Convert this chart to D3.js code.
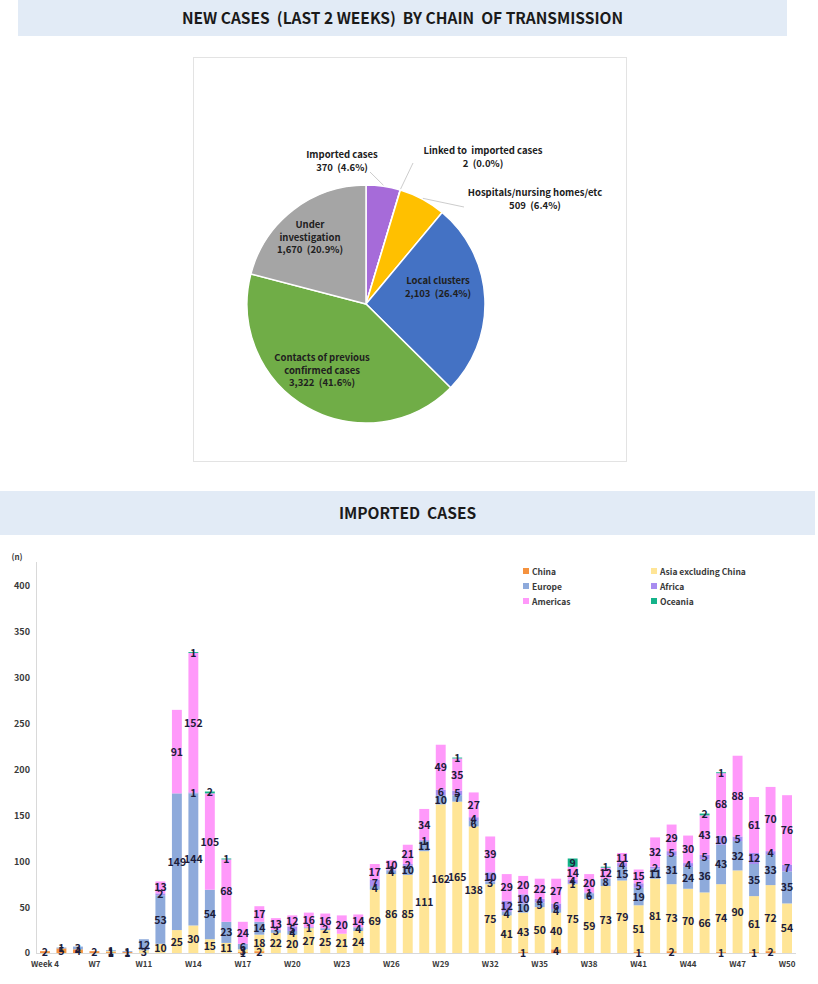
<!DOCTYPE html>
<html>
<head>
<meta charset="utf-8">
<script src="https://cdn.jsdelivr.net/npm/d3@7"></script>
<style>
  body { margin: 0; background: #fff; }
  text { font-family: "Noto Sans CJK KR", "Noto Sans", sans-serif; white-space: pre; }
</style>
</head>
<body>
<svg id="page" width="818" height="984"></svg>
<script>
// pie: new cases by chain of transmission
const chainNames = ["Imported cases", "Linked to  imported cases", "Hospitals/nursing homes/etc",
  "Local clusters", "Contacts of previous confirmed cases", "Under investigation"]
const chainCounts = [370, 2, 509, 2103, 3322, 1670]
const chainPct = ["4.6%", "0.0%", "6.4%", "26.4%", "41.6%", "20.9%"]

// bars: imported cases per week
const weeks = ["Week 4", "W5", "W6", "W7", "W8", "W9", "W11", "W12", "W13", "W14", "W15", "W16",
  "W17", "W18", "W19", "W20", "W21", "W22", "W23", "W24", "W25", "W26", "W27", "W28", "W29",
  "W30", "W31", "W32", "W33", "W34", "W35", "W36", "W37", "W38", "W39", "W40", "W41", "W42",
  "W43", "W44", "W45", "W46", "W47", "W48", "W49", "W50"]
const weekTicks = ["Week 4", "W7", "W11", "W14", "W17", "W20", "W23", "W26", "W29", "W32",
  "W35", "W38", "W41", "W44", "W47", "W50"]
const regions = ["China", "Asia excluding China", "Europe", "Africa", "Americas", "Oceania"]
const china    = [2, 5, 4, 2, 1, 1, 0, 0, 0, 0, 0, 0, 1, 2, 0, 0, 0, 0, 0, 0, 0, 0, 0, 0, 0, 0, 0, 0, 0, 1, 0, 4, 0, 0, 0, 0, 1, 0, 2, 0, 0, 1, 0, 1, 2, 0]
const asia     = [0, 0, 0, 0, 1, 0, 3, 10, 25, 30, 15, 11, 3, 18, 22, 20, 27, 25, 21, 24, 69, 86, 85, 111, 162, 165, 138, 75, 41, 43, 50, 40, 75, 59, 73, 79, 51, 81, 73, 70, 66, 74, 90, 61, 72, 54]
const europe   = [0, 1, 3, 0, 1, 1, 12, 53, 149, 144, 54, 23, 6, 14, 3, 4, 1, 2, 0, 4, 4, 4, 10, 11, 10, 7, 6, 3, 4, 10, 5, 4, 1, 6, 8, 15, 19, 11, 31, 24, 36, 43, 32, 35, 33, 35]
const africa   = [0, 0, 0, 0, 0, 0, 0, 2, 0, 1, 0, 0, 0, 0, 0, 5, 0, 0, 0, 0, 7, 1, 2, 1, 6, 5, 4, 10, 12, 10, 4, 6, 4, 1, 0, 4, 5, 2, 5, 4, 5, 10, 5, 12, 4, 7]
const americas = [0, 0, 0, 0, 0, 0, 0, 13, 91, 152, 105, 68, 24, 17, 13, 12, 16, 16, 20, 14, 17, 10, 21, 34, 49, 35, 27, 39, 29, 20, 22, 27, 14, 20, 12, 11, 15, 32, 29, 30, 43, 68, 88, 61, 70, 76]
const oceania  = [0, 0, 0, 0, 0, 0, 0, 0, 0, 1, 2, 1, 0, 0, 0, 0, 0, 0, 0, 0, 0, 0, 0, 0, 0, 1, 0, 0, 0, 0, 0, 0, 9, 0, 1, 0, 0, 0, 0, 0, 2, 1, 0, 0, 0, 0]
const yTicks = [0, 50, 100, 150, 200, 250, 300, 350, 400]

const svg = d3.select("#page")

// ---- banners
function banner(x, y, w, h, label) {
  svg.append("rect").attr("x", x).attr("y", y).attr("width", w).attr("height", h).attr("fill", "#e2ebf6")
  svg.append("text").attr("x", x + w / 2).attr("y", y + h / 2 + 5.5)
    .attr("text-anchor", "middle").attr("font-size", 15.5).attr("font-weight", "bold")
    .attr("fill", "#1a1a1a").text(label)
}
banner(18, 0, 769, 36, "NEW CASES  (LAST 2 WEEKS)  BY CHAIN  OF TRANSMISSION")
banner(0, 491, 815, 44, "IMPORTED  CASES")

// ---- pie
svg.append("rect").attr("x", 193.5).attr("y", 57.5).attr("width", 433).attr("height", 404)
  .attr("fill", "none").attr("stroke", "#e3e3e3")

const pieColors = ["#a66bd9", "#5b8fd6", "#ffc000", "#4472c4", "#70ad47", "#a5a5a5"]
const cx = 366, cy = 304, r = 119
const pieG = svg.append("g").attr("transform", `translate(${cx},${cy})`)
const arcs = d3.pie().sort(null)(chainCounts)
const arc = d3.arc().innerRadius(0).outerRadius(r)
pieG.selectAll("path").data(arcs).join("path")
  .attr("d", arc).attr("fill", (d, i) => pieColors[i])
  .attr("stroke", "#fff").attr("stroke-width", 1.5)

// label layout (relative to pie centre); lines = text rows
const pieLabels = [
  { i: 0, x: -24, y: -146, lines: ["Imported cases", "370  (4.6%)"], leader: [4, -132] },
  { i: 1, x: 117, y: -150, lines: ["Linked to  imported cases", "2  (0.0%)"], leader: [47, -141] },
  { i: 2, x: 169, y: -108, lines: ["Hospitals/nursing homes/etc", "509  (6.4%)"], leader: [98, -97] },
  { i: 3, x: 72, y: -20, lines: ["Local clusters", "2,103  (26.4%)"] },
  { i: 4, x: -44, y: 57, lines: ["Contacts of previous", "confirmed cases", "3,322  (41.6%)"] },
  { i: 5, x: -56, y: -76, lines: ["Under", "investigation", "1,670  (20.9%)"] }
]
pieLabels.forEach(l => {
  if (l.leader) {
    const a = arcs[l.i]
    const mid = (a.startAngle + a.endAngle) / 2
    const ex = Math.sin(mid) * (r + 1), ey = -Math.cos(mid) * (r + 1)
    pieG.append("line").attr("x1", l.leader[0]).attr("y1", l.leader[1])
      .attr("x2", ex).attr("y2", ey).attr("stroke", "#bfbfbf").attr("stroke-width", 0.8)
  }
  const t = pieG.append("text").attr("text-anchor", "middle").attr("font-size", 9.5)
    .attr("font-weight", "bold").attr("fill", "#202020")
  l.lines.forEach((s, k) => {
    t.append("tspan").attr("x", l.x).attr("y", l.y + k * 12.5).text(s)
  })
})

// ---- stacked bars
const rows = weeks.map((w, i) => ({
  week: w,
  "China": china[i], "Asia excluding China": asia[i], "Europe": europe[i],
  "Africa": africa[i], "Americas": americas[i], "Oceania": oceania[i]
}))
const barColors = ["#f5923e", "#ffe596", "#8eaadb", "#a88cf0", "#ff99fa", "#14b38a"]
const stack = d3.stack().keys(regions)(rows)

const x = d3.scaleBand().domain(weeks).range([36.7, 795.3]).paddingInner(0.4).paddingOuter(0.2)
const y = d3.scaleLinear().domain([0, 400]).range([953, 586])

// axis lines
svg.append("line").attr("x1", 36.5).attr("x2", 36.5).attr("y1", 562).attr("y2", 953)
  .attr("stroke", "#d9d9d9")
svg.append("line").attr("x1", 36).attr("x2", 796).attr("y1", 953.5).attr("y2", 953.5)
  .attr("stroke", "#d9d9d9")

const yAxis = svg.append("g").attr("transform", "translate(30,0)")
  .call(d3.axisLeft(y).tickValues(yTicks).tickSize(0).tickPadding(0))
yAxis.select(".domain").remove()
yAxis.selectAll("text").attr("font-size", 9).attr("font-weight", "bold").attr("fill", "#3a3a3a")
  .attr("font-family", "'Noto Sans CJK KR', sans-serif")
svg.append("text").attr("x", 17).attr("y", 560).attr("text-anchor", "middle")
  .attr("font-size", 8).attr("font-weight", "bold").attr("fill", "#3a3a3a").text("(n)")

const xAxis = svg.append("g").attr("transform", "translate(0,953)")
  .call(d3.axisBottom(x).tickValues(weekTicks).tickSize(0).tickPadding(8))
xAxis.select(".domain").remove()
xAxis.selectAll("text").attr("font-size", 8).attr("font-weight", "bold").attr("fill", "#3a3a3a")
  .attr("font-family", "'Noto Sans CJK KR', sans-serif")

const layers = svg.append("g").selectAll("g").data(stack).join("g")
  .attr("fill", (d, i) => barColors[i])
layers.selectAll("rect").data(d => d).join("rect")
  .attr("x", d => x(d.data.week))
  .attr("width", x.bandwidth())
  .attr("y", d => y(d[1]))
  .attr("height", d => y(d[0]) - y(d[1]))

// value labels at the centre of each segment
const labelG = svg.append("g")
stack.forEach(layer => {
  layer.forEach(d => {
    const v = d[1] - d[0]
    if (v <= 0) return
    labelG.append("text")
      .attr("x", x(d.data.week) + x.bandwidth() / 2)
      .attr("y", (y(d[0]) + y(d[1])) / 2 + 4)
      .attr("text-anchor", "middle").attr("font-size", 10.5).attr("font-weight", "bold")
      .attr("fill", "#1c1c3a").text(v)
  })
})

// legend
const legend = svg.append("g").selectAll("g").data(regions).join("g")
  .attr("transform", (d, i) => `translate(${i % 2 ? 651 : 523},${572 + Math.floor(i / 2) * 15})`)
legend.append("rect").attr("x", 0).attr("y", -4).attr("width", 6).attr("height", 6)
  .attr("fill", (d, i) => barColors[i])
legend.append("text").attr("x", 9).attr("y", 2.5).attr("font-size", 8.5).attr("font-weight", "bold")
  .attr("fill", "#3a3a3a").text(d => d)
</script>
</body>
</html>
